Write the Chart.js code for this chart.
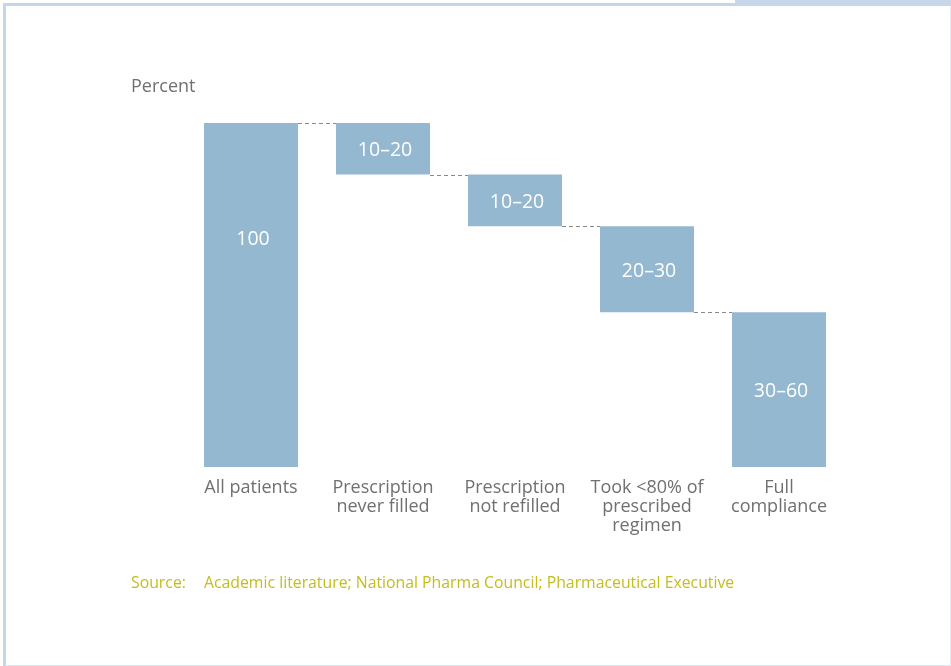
<!DOCTYPE html>
<html>
<head>
<meta charset="utf-8">
<script src="https://cdn.jsdelivr.net/npm/chart.js@4.4.0/dist/chart.umd.min.js"></script>
<style>
  html, body { margin: 0; padding: 0; background: #fff; }
  #wrap { position: relative; width: 951px; height: 666px; overflow: hidden; }
  #frame { position: absolute; left: 3px; top: 3px; width: 944px; height: 659px;
           border-left: 3px solid #c5d6e8; border-top: 3px solid #c5d6e8;
           border-right: 2px solid #e6ebf0; border-bottom: 2px solid #dfe6ee; }
  #tab { position: absolute; left: 735px; top: 0; width: 216px; height: 6px; background: #c6d7ea; }
  canvas { position: absolute; left: 0; top: 0; }
</style>
</head>
<body>
<div id="wrap">
  <div id="frame"></div>
  <div id="tab"></div>
  <canvas id="canvas" width="951" height="666"></canvas>
</div>
<script>
const categories = [
    ['All patients'],
    ['Prescription', 'never filled'],
    ['Prescription', 'not refilled'],
    ['Took <80% of', 'prescribed', 'regimen'],
    ['Full', 'compliance']
];
// bar ends in percent (midpoints of the quoted ranges)
const lows = [0, 85, 70, 45, 0];
const highs = [100, 100, 85, 70, 45];
const valueLabels = ['100', '10–20', '10–20', '20–30', '30–60'];

const FONT = "'Open Sans', 'Liberation Sans', sans-serif";
const GREY = '#707070';

// dashed connectors between steps + value text inside the bars
const waterfallPlugin = {
    id: 'waterfall',
    afterDatasetsDraw(chart) {
        const ctx = chart.ctx;
        const y = chart.scales.y;
        const bars = chart.getDatasetMeta(0).data;

        ctx.save();
        ctx.strokeStyle = '#888';
        ctx.lineWidth = 1;
        ctx.setLineDash([4, 3]);
        for (let i = 0; i < bars.length - 1; i++) {
            const level = Math.round(y.getPixelForValue(highs[i + 1])) + 0.5;
            const x0 = bars[i].x + bars[i].width / 2;
            const x1 = bars[i + 1].x - bars[i + 1].width / 2;
            ctx.beginPath();
            ctx.moveTo(x0, level);
            ctx.lineTo(x1, level);
            ctx.stroke();
        }
        ctx.restore();

        ctx.save();
        ctx.fillStyle = '#fff';
        ctx.font = '19.5px ' + FONT;
        ctx.textAlign = 'center';
        ctx.textBaseline = 'middle';
        bars.forEach((bar, i) => {
            const top = y.getPixelForValue(highs[i]);
            const bottom = y.getPixelForValue(lows[i]);
            // the full-height bar carries its label in the upper third
            const ty = (highs[i] - lows[i] >= 100) ? top + (bottom - top) / 3 : (top + bottom) / 2;
            ctx.fillText(valueLabels[i], bar.x + 2, ty + 2);
        });
        ctx.restore();
    },
    afterDraw(chart) {
        const ctx = chart.ctx;
        ctx.save();
        ctx.textBaseline = 'middle';
        ctx.textAlign = 'left';
        ctx.fillStyle = GREY;
        ctx.font = '18px ' + FONT;
        ctx.fillText('Percent', 131, 87);
        ctx.fillStyle = '#c4bd1c';
        ctx.font = '15.8px ' + FONT;
        ctx.fillText('Source:', 131, 583);
        ctx.fillText('Academic literature; National Pharma Council; Pharmaceutical Executive', 204, 583);
        ctx.restore();
    }
};

const chart = new Chart(document.getElementById('canvas').getContext('2d'), {
    type: 'bar',
    data: {
        labels: categories,
        datasets: [{
            data: lows.map((lo, i) => [lo, highs[i]]),
            backgroundColor: '#93b8d0',
            borderWidth: 0,
            barPercentage: 0.712,
            categoryPercentage: 1
        }]
    },
    options: {
        responsive: false,
        animation: false,
        layout: { padding: { left: 185, right: 106, top: 123, bottom: 119 } },
        plugins: { legend: { display: false }, tooltip: { enabled: false } },
        scales: {
            x: {
                grid: { display: false },
                border: { display: false },
                ticks: {
                    color: GREY,
                    font: { family: FONT, size: 18, lineHeight: 1.06 },
                    padding: 3,
                    maxRotation: 0,
                    autoSkip: false
                },
                afterFit(scale) { scale.height = 80; }
            },
            y: { display: false, min: 0, max: 100 }
        }
    },
    plugins: [waterfallPlugin]
});
</script>
</body>
</html>
